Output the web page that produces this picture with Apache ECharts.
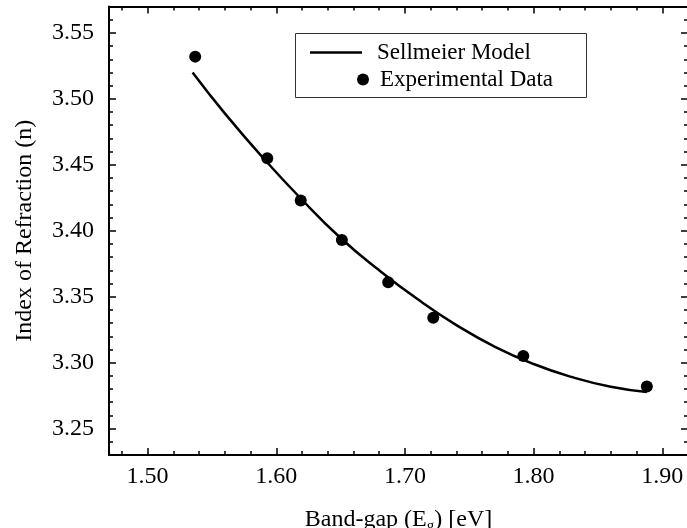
<!DOCTYPE html>
<html>
<head>
<meta charset="utf-8">
<script src="https://cdn.jsdelivr.net/npm/echarts@6/dist/echarts.min.js"></script>
<style>
html,body{margin:0;padding:0;background:#fff;}
#chart{width:687px;height:528px;}
</style>
</head>
<body>
<div id="chart"></div>
<script>
// Experimental data
var expX = [1.537, 1.593, 1.619, 1.651, 1.687, 1.722, 1.792, 1.888];
var expY = [3.532, 3.455, 3.423, 3.393, 3.361, 3.334, 3.305, 3.282];
// Sellmeier model curve
var modelX = [1.535, 1.56, 1.59, 1.62, 1.65, 1.68, 1.71, 1.74, 1.77, 1.80, 1.83, 1.86, 1.888];
var modelY = [3.520, 3.489, 3.455, 3.4235, 3.3945, 3.370, 3.348, 3.3285, 3.312, 3.299, 3.289, 3.2817, 3.2777];
// Ticks
var xMajor = [1.50, 1.60, 1.70, 1.80, 1.90];
var xMinor = [1.48, 1.50, 1.52, 1.54, 1.56, 1.58, 1.60, 1.62, 1.64, 1.66, 1.68, 1.70, 1.72, 1.74, 1.76, 1.78, 1.80, 1.82, 1.84, 1.86, 1.88, 1.90, 1.92];
var yMajor = [3.25, 3.30, 3.35, 3.40, 3.45, 3.50, 3.55];
var yMinor = [3.23, 3.24, 3.25, 3.26, 3.27, 3.28, 3.29, 3.30, 3.31, 3.32, 3.33, 3.34, 3.35, 3.36, 3.37, 3.38, 3.39, 3.40, 3.41, 3.42, 3.43, 3.44, 3.45, 3.46, 3.47, 3.48, 3.49, 3.50, 3.51, 3.52, 3.53, 3.54, 3.55, 3.56, 3.57];
var xRange = [1.47, 1.92];
var yRange = [3.23, 3.57];

var FONT = '"Liberation Serif", "DejaVu Serif", serif';
var chart = echarts.init(document.getElementById('chart'));

function xAx(pos, ticks, len, showLine, showLabel, name) {
  var a = {
    type: 'value', position: pos, min: xRange[0], max: xRange[1],
    splitLine: {show: false},
    axisLine: {show: showLine, onZero: false, lineStyle: {color: '#000', width: 2}},
    axisTick: {show: true, inside: true, length: len, customValues: ticks, lineStyle: {color: '#000', width: 1.5}},
    axisLabel: {show: showLabel, customValues: ticks, margin: 10, color: '#000', fontSize: 24, fontFamily: FONT,
      formatter: function (v) { return v.toFixed(2); }}
  };
  if (name) {
    a.name = name; a.nameLocation = 'middle'; a.nameGap = 50;
    a.nameTextStyle = {color: '#000', fontSize: 24, fontFamily: FONT,
      rich: {sub: {fontSize: 15, fontFamily: FONT, color: '#000', padding: [14, 0, 0, 0]}}};
  }
  return a;
}
function yAx(pos, ticks, len, showLine, showLabel, name) {
  var a = {
    type: 'value', position: pos, min: yRange[0], max: yRange[1],
    splitLine: {show: false},
    axisLine: {show: showLine, onZero: false, lineStyle: {color: '#000', width: 2}},
    axisTick: {show: true, inside: true, length: len, customValues: ticks, lineStyle: {color: '#000', width: 1.5}},
    axisLabel: {show: showLabel, customValues: ticks, margin: 15, color: '#000', fontSize: 24, fontFamily: FONT,
      formatter: function (v) { return v.toFixed(2); }}
  };
  if (name) {
    a.name = name; a.nameLocation = 'middle'; a.nameGap = 72;
    a.nameTextStyle = {color: '#000', fontSize: 24, fontFamily: FONT};
  }
  return a;
}

var modelData = modelX.map(function (x, i) { return [x, modelY[i]]; });
var expData = expX.map(function (x, i) { return [x, expY[i]]; });

chart.setOption({
  animation: false,
  backgroundColor: '#fff',
  grid: {left: 109, top: 6.5, width: 579, height: 448.5, containLabel: false, outerBoundsMode: 'none'},
  xAxis: [
    xAx('bottom', xMajor, 7, true, true, 'Band-gap (E{sub|g}) [eV]'),
    xAx('bottom', xMinor, 4, false, false),
    xAx('top', xMajor, 7, true, false),
    xAx('top', xMinor, 4, false, false)
  ],
  yAxis: [
    yAx('left', yMajor, 7, true, true, 'Index of Refraction (n)'),
    yAx('left', yMinor, 4, false, false),
    yAx('right', yMajor, 7, true, false),
    yAx('right', yMinor, 4, false, false)
  ],
  legend: [
    {data: [{name: 'Sellmeier Model', icon: 'rect', itemStyle: {color: '#000', opacity: 1}}],
      left: 310, top: 41, padding: 0, itemWidth: 52, itemHeight: 2.5,
      textStyle: {color: '#000', fontSize: 23, fontFamily: FONT, padding: [0, 0, 0, 10]}},
    {data: [{name: 'Experimental Data', icon: 'circle', itemStyle: {color: '#000', opacity: 1}}],
      left: 357, top: 68, padding: 0, itemWidth: 12, itemHeight: 12,
      textStyle: {color: '#000', fontSize: 23, fontFamily: FONT, padding: [0, 0, 0, 6]}}
  ],
  graphic: [
    {type: 'rect', shape: {x: 295.5, y: 33.5, width: 291, height: 64}, style: {fill: 'none', stroke: '#333', lineWidth: 1}, z: 10}
  ],
  series: [
    {name: 'Sellmeier Model', type: 'line', xAxisIndex: 0, yAxisIndex: 0, data: modelData,
      smooth: true, symbol: 'none', lineStyle: {color: '#000', width: 2.5}, itemStyle: {color: '#000'}},
    {name: 'Experimental Data', type: 'scatter', xAxisIndex: 0, yAxisIndex: 0, data: expData,
      symbol: 'circle', symbolSize: 12, itemStyle: {color: '#000', opacity: 1}}
  ]
});
</script>
</body>
</html>
